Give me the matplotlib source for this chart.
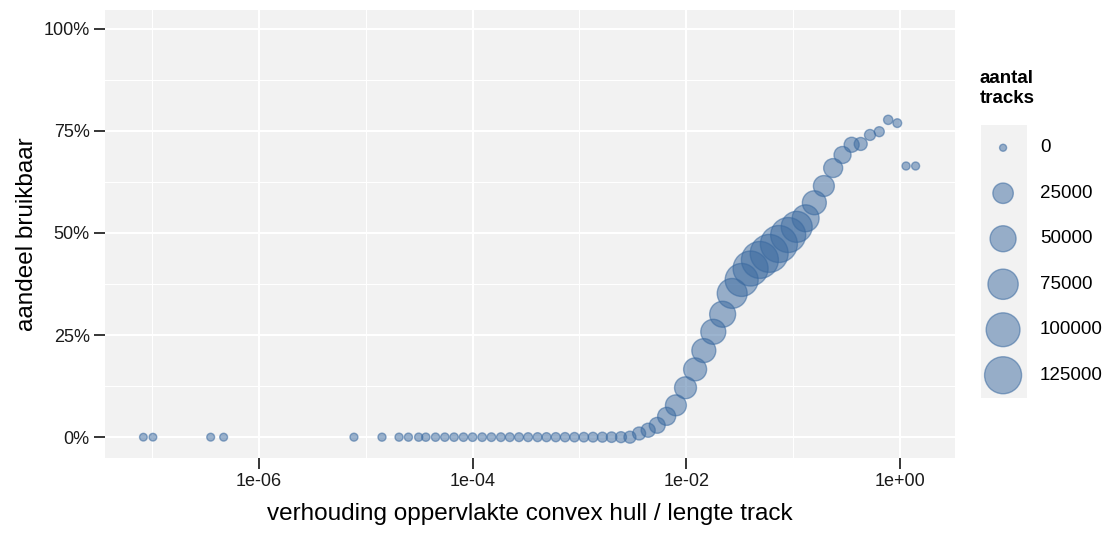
"""
Share of usable tracks versus convex hull area / track length ratio.
"""
import matplotlib
matplotlib.use('Agg')
import matplotlib.pyplot as plt
import numpy as np
from matplotlib.ticker import FixedLocator, FuncFormatter, PercentFormatter

# ratio convex hull area / track length (bin centres)
ratio = [8.3e-08, 1.02e-07, 3.54e-07, 4.68e-07, 7.76e-06, 1.42e-05,
         2.05e-05, 2.51e-05, 3.13e-05, 3.65e-05, 4.50e-05, 5.50e-05,
         6.71e-05, 8.22e-05, 1.00e-04, 1.23e-04, 1.50e-04, 1.84e-04,
         2.23e-04, 2.72e-04, 3.31e-04, 4.06e-04, 4.92e-04, 6.01e-04,
         7.34e-04, 8.99e-04, 1.10e-03, 1.34e-03, 1.64e-03, 2.00e-03,
         2.45e-03, 2.97e-03, 3.62e-03, 4.40e-03, 5.35e-03, 6.55e-03,
         8.00e-03, 9.84e-03, 1.21e-02, 1.46e-02, 1.79e-02, 2.19e-02,
         2.69e-02, 3.30e-02, 4.00e-02, 4.89e-02, 5.97e-02, 7.36e-02,
         8.99e-02, 1.08e-01, 1.31e-01, 1.58e-01, 1.94e-01, 2.37e-01,
         2.90e-01, 3.53e-01, 4.29e-01, 5.24e-01, 6.40e-01, 7.76e-01,
         9.44e-01, 1.14e+00, 1.40e+00]

# share of usable tracks per bin
share = [0.0, 0.0, 0.0, 0.0, 0.0, 0.0,
         0.0, 0.0, 0.0, 0.0, 0.0, 0.0,
         0.0, 0.0, 0.0, 0.0, 0.0, 0.0,
         0.0, 0.0, 0.0, 0.0, 0.0, 0.0,
         0.0, 0.0, 0.0, 0.0, 0.0, 0.0,
         0.0, 0.0, 0.009, 0.017, 0.029, 0.051,
         0.078, 0.121, 0.166, 0.212, 0.258, 0.301,
         0.352, 0.385, 0.413, 0.434, 0.450, 0.473,
         0.495, 0.515, 0.536, 0.574, 0.615, 0.659,
         0.691, 0.716, 0.718, 0.740, 0.748, 0.777,
         0.769, 0.664, 0.664]

# number of tracks per bin
n_tracks = [60, 60, 90, 90, 120, 150,
            150, 170, 190, 210, 230, 250,
            270, 290, 310, 330, 360, 390,
            420, 450, 480, 520, 560, 620,
            700, 800, 900, 1050, 1250, 1700,
            2200, 3500, 5000, 7000, 11000, 17000,
            27000, 31000, 35500, 40000, 45000, 50000,
            73000, 94000, 109000, 125000, 133000, 125000,
            109000, 80000, 55000, 40000, 27000, 20000,
            14000, 9000, 5000, 2200, 1250, 700,
            400, 140, 140]

legend_values = [0, 25000, 50000, 75000, 100000, 125000]
legend_labels = ['0', '25000', '50000', '75000', '100000', '125000']

point_fill = (0.231, 0.416, 0.627, 0.5)
point_edge = (0.231, 0.416, 0.627, 0.55)
panel_bg = '#F2F2F2'
max_count = 125000


def marker_area(n):
    # diameter in px grows with sqrt of count (area scale), returned as pt^2
    d_px = 7 + 30 * np.sqrt(np.asarray(n, dtype=float) / max_count)
    return (d_px * 0.72) ** 2


plt.rcParams['font.family'] = ['Liberation Sans', 'DejaVu Sans']

fig = plt.figure(figsize=(11.1, 5.34), dpi=100)
ax = fig.add_axes([105 / 1110, 76 / 534, 850 / 1110, 448 / 534])
ax.set_facecolor(panel_bg)
for sp in ax.spines.values():
    sp.set_visible(False)

ax.set_xscale('log')
ax.set_xlim(10 ** -7.44, 10 ** 0.515)
ax.set_ylim(-0.051, 1.046)

ax.xaxis.set_major_locator(FixedLocator([1e-6, 1e-4, 1e-2, 1e0]))
ax.xaxis.set_minor_locator(FixedLocator([1e-7, 1e-5, 1e-3, 1e-1]))
ax.xaxis.set_major_formatter(FuncFormatter(lambda v, p: f'{v:.0e}'))
ax.xaxis.set_minor_formatter(FuncFormatter(lambda v, p: ''))
ax.yaxis.set_major_locator(FixedLocator([0, 0.25, 0.5, 0.75, 1.0]))
ax.yaxis.set_minor_locator(FixedLocator([0.125, 0.375, 0.625, 0.875]))
ax.yaxis.set_major_formatter(PercentFormatter(1.0, decimals=0))

ax.grid(which='major', color='white', linewidth=1.5)
ax.grid(which='minor', color='white', linewidth=0.8)
ax.set_axisbelow(True)
ax.tick_params(which='major', length=8, width=1.1, color='black',
               labelsize=13, labelcolor='#1a1a1a', pad=3)
ax.tick_params(which='minor', length=0)

ax.scatter(ratio, share, s=marker_area(n_tracks),
           facecolor=point_fill, edgecolor=point_edge, linewidth=1.0, zorder=3)

ax.set_xlabel('verhouding oppervlakte convex hull / lengte track', fontsize=17.5,
              labelpad=9)
ax.set_ylabel('aandeel bruikbaar', fontsize=17.5, labelpad=4)

# legend drawn by hand, ggplot style
fig.text(980 / 1110, 1 - 70 / 534, 'aantal\ntracks', fontsize=13.5,
         fontweight='bold', va='top', ha='left', linespacing=1.25)
lax = fig.add_axes([981 / 1110, 1 - 398 / 534, 46 / 1110, 273 / 534])
lax.set_facecolor(panel_bg)
for sp in lax.spines.values():
    sp.set_visible(False)
lax.set_xticks([])
lax.set_yticks([])
lax.set_xlim(0, 1)
lax.set_ylim(len(legend_values) - 0.5, -0.5)
ypos = np.arange(len(legend_values))
lax.scatter(np.full(len(legend_values), 0.48), ypos, s=marker_area(legend_values),
            facecolor=point_fill, edgecolor=point_edge, linewidth=1.0, clip_on=False)
for yy, lab in zip(ypos, legend_labels):
    lax.text(1.28, yy, lab, fontsize=13.5, va='center', ha='left',
             transform=lax.transData, clip_on=False)

fig.savefig('out.png', dpi=100)
